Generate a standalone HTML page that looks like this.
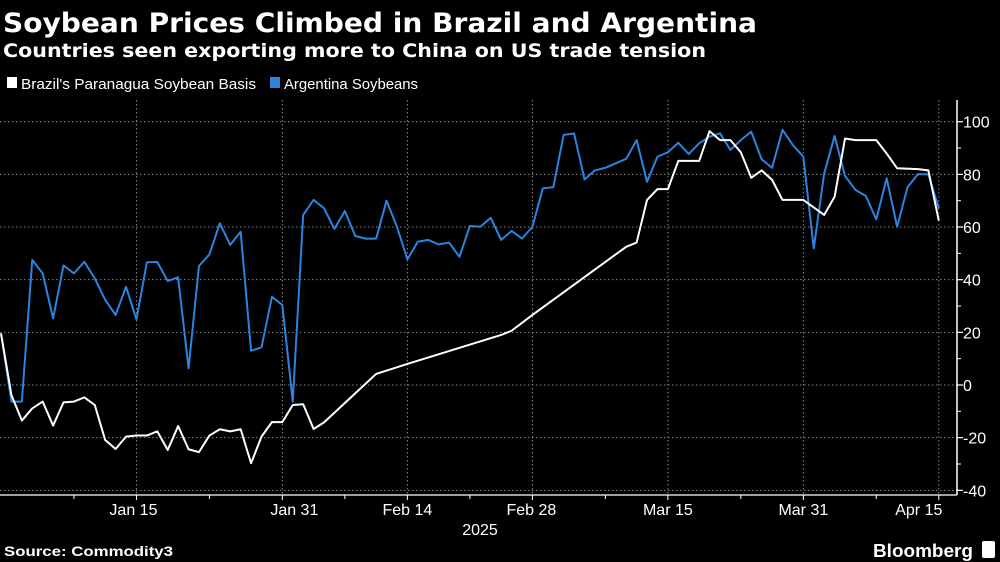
<!DOCTYPE html>
<html><head><meta charset="utf-8"><style>
html,body{margin:0;padding:0;background:#000;width:1000px;height:562px;overflow:hidden}
svg{display:block}
text{font-family:"Liberation Sans","DejaVu Sans",sans-serif;fill:#fff}
</style></head><body>
<svg id="chart" width="1000" height="562" viewBox="0 0 1000 562" xmlns="http://www.w3.org/2000/svg">
<rect width="1000" height="562" fill="#000"/>
<text x="3" y="32" font-size="27" font-weight="bold" textLength="754" lengthAdjust="spacingAndGlyphs" style="font-family:'DejaVu Sans',sans-serif">Soybean Prices Climbed in Brazil and Argentina</text>
<text x="3" y="57" font-size="19" font-weight="bold" textLength="703" lengthAdjust="spacingAndGlyphs" style="font-family:'DejaVu Sans',sans-serif">Countries seen exporting more to China on US trade tension</text>
<g>
<rect x="7" y="77" width="10" height="11" fill="#fff"/>
<text x="21" y="89" font-size="15" textLength="235" lengthAdjust="spacingAndGlyphs">Brazil's Paranagua Soybean Basis</text>
<rect x="270" y="77" width="10" height="11" fill="#2a84e0"/>
<text x="284" y="89" font-size="15" textLength="134" lengthAdjust="spacingAndGlyphs">Argentina Soybeans</text>
</g>
<g id="grid"></g>
<g id="series"></g>
<g id="axes"></g>
<text x="480" y="535" font-size="16" text-anchor="middle">2025</text>
<text x="4" y="556" font-size="14" font-weight="bold" textLength="169" lengthAdjust="spacingAndGlyphs">Source: Commodity3</text>
<text x="873" y="557" font-size="18" font-weight="bold" textLength="100" lengthAdjust="spacingAndGlyphs">Bloomberg</text>
<rect x="982" y="541" width="13" height="17" rx="2" fill="#fff"/>
</svg>
<script>
const argentinaValues=[19.6,-6.3,-6.3,47.5,42.4,25.3,45.4,42.4,46.8,40.5,32.3,26.6,37.3,24.9,46.6,46.7,39.5,40.9,6.3,45.2,49.6,61.4,53.2,58.2,13.0,14.3,33.5,30.4,-6.3,64.6,70.3,67.1,59.3,
66.1,56.6,55.6,55.6,70.0,60.1,47.7,54.4,55.1,53.4,54.1,48.7,60.4,60.1,63.5,55.1,58.5,55.6,60.1,74.7,75.1,95.0,95.5,78.1,81.5,82.5,84.2,85.9,93.0,77.2,86.7,
88.4,92.0,87.7,91.8,94.3,95.6,89.3,93.0,96.2,85.7,82.5,96.9,91.1,86.7,51.9,80.3,94.6,79.4,74.1,71.8,62.9,78.5,60.1,75.1,80.1,80.0,67.1];
const brazilIdx=[0,1,2,3,4,5,6,7,8,9,10,11,12,13,14,15,16,17,18,19,20,21,22,23,24,25,26,27,28,29,30,31,36,39,48,49,51,60,61,62,63,64,65,66,67,68,69,70,71,72,73,74,75,76,77,79,80,81,82,84,85,86,88,89,90];
const brazilValues=[19.6,-3.8,-13.5,-8.9,-6.3,-15.4,-6.6,-6.3,-4.7,-7.6,-20.9,-24.3,-19.6,-19.2,-19.2,-17.6,-24.7,-15.6,-24.4,-25.5,-19.2,-16.8,-17.6,-16.8,-29.7,-19.6,-14.1,-14.1,-7.6,-7.3,-16.7,-14.2,4.2,8.0,19.0,20.6,26.6,52.5,54.1,70.3,74.4,74.4,85.1,85.1,85.1,96.4,93.0,93.0,88.4,78.7,81.5,77.9,70.3,70.3,70.3,64.6,71.5,93.6,93.0,93.0,87.9,82.3,82.0,81.5,62.4];
const yTicks=[100,80,60,40,20,0,-20,-40];
const yMinorTicks=[90,70,50,30,10,-10,-30];
const xTickIdx=[13,27,39,51,64,77,90];
const xTickLabels=["Jan 15","Jan 31","Feb 14","Feb 28","Mar 15","Mar 31","Apr 15"];
const xMinorIdx=[7,20,33,45,58,71,84];
const labelShift=[-3,12,0,-1,0,0,-20];

const NS="http://www.w3.org/2000/svg";
const xScale=i=>1+i*10.42;
const yScale=v=>385-v*2.633;
const PL=0,PR=957,PT=100,PB=495;
function mk(tag,attrs,parent){const e=document.createElementNS(NS,tag);for(const k in attrs)e.setAttribute(k,attrs[k]);parent.appendChild(e);return e;}
const grid=document.getElementById('grid'),axes=document.getElementById('axes'),series=document.getElementById('series');
yTicks.forEach((v,k)=>{
  const y=yScale(v);
  const g=mk('line',{x1:PL,x2:PR,y1:y,y2:y,stroke:'#888','stroke-width':1,'stroke-dasharray':'1.5 2.5'},grid);
  
  
  const t=mk('line',{x1:PR,x2:PR+6,y1:y,y2:y,stroke:'#fff','stroke-width':1.2},axes);
  
  
  const l=mk('text',{x:PR+6,y:y+6,'font-size':16},axes);
  l.textContent=v<0?'-'+Math.abs(v):String(v);
  
  
});
yMinorTicks.forEach(v=>{
  const y=yScale(v);
  const t=mk('line',{x1:PR,x2:PR+4,y1:y,y2:y,stroke:'#fff','stroke-width':1},axes);
  
  
});
xTickIdx.forEach((i,k)=>{
  const x=xScale(i);
  const g=mk('line',{x1:x,x2:x,y1:PT,y2:PB,stroke:'#888','stroke-width':1,'stroke-dasharray':'1.5 2.5'},grid);
  
  
  const t=mk('line',{x1:x,x2:x,y1:PB,y2:PB+5,stroke:'#fff','stroke-width':1},axes);
  
  
  const l=mk('text',{x:x+labelShift[k],y:PB+20,'font-size':16,'text-anchor':'middle'},axes);
  l.textContent=xTickLabels[k];
  
  
});
xMinorIdx.forEach(i=>{
  const x=xScale(i);
  const t=mk('line',{x1:x,x2:x,y1:PB,y2:PB+4,stroke:'#fff','stroke-width':1},axes);
  
  
});
const ya=mk('line',{x1:PR,x2:PR,y1:PT,y2:PB,stroke:'#fff','stroke-width':1.5},axes);


const xa=mk('line',{x1:PL,x2:PR,y1:PB,y2:PB,stroke:'#fff','stroke-width':1.2},axes);


const pa=mk('polyline',{points:argentinaValues.map((v,i)=>xScale(i)+','+yScale(v)).join(' '),fill:'none',stroke:'#2a84e0','stroke-width':2,'stroke-linejoin':'round'},series);


const pb=mk('polyline',{points:brazilValues.map((v,k)=>xScale(brazilIdx[k])+','+yScale(v)).join(' '),fill:'none',stroke:'#fff','stroke-width':2,'stroke-linejoin':'round'},series);


</script>
</body></html>
